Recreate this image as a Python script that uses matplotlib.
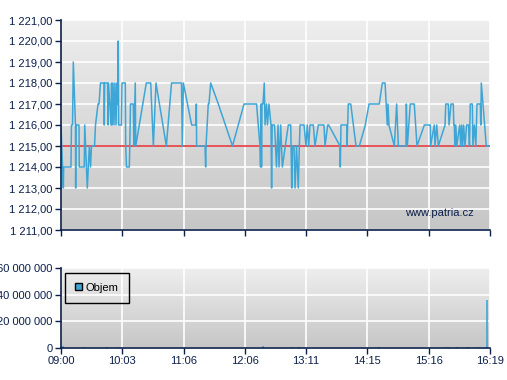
import numpy as np
import matplotlib
matplotlib.use("Agg")
import matplotlib.pyplot as plt
from matplotlib.ticker import FuncFormatter, FixedLocator
from matplotlib.patches import Patch
from matplotlib.colors import LinearSegmentedColormap

# ---------------- data ----------------
# minutes since 09:00
price_time = [0, 2.4, 2.7, 10.2, 10.7, 11.8, 12.6, 14.8, 15.0, 15.3, 18.4, 18.7, 23.8, 24.3,
              26.9, 29.0, 30.2, 31.2, 34.3, 35.3, 37.9, 38.9, 40.4, 44.0, 44.3, 44.7, 47.6,
              48.1, 48.6, 51.2, 51.7, 52.2, 53.2, 54.2, 55.2, 56.3, 57.3, 57.8, 58.6, 59.0,
              60.4, 61.9, 62.4, 65.8, 66.2, 67.0, 69.9, 70.4, 71.1, 74.0, 74.5, 76.0, 76.5,
              87.3, 91.8, 94.5, 97.2, 107.8, 113.1, 123.3, 124.1, 125.2, 133.7, 138.1, 138.5,
              138.8, 147.4, 148.0, 148.4, 150.7, 151.4, 153.2, 161.0, 175.5, 187.3, 200.1,
              203.6, 204.2, 204.7, 205.2, 205.7, 206.7, 208.0, 208.8, 210.3, 211.3, 212.8,
              214.9, 215.5, 216.1, 218.5, 220.5, 222.1, 223.1, 224.8, 226.5, 232.6, 235.1,
              236.1, 236.9, 238.4, 239.5, 241.0, 242.8, 243.9, 244.6, 248.7, 250.7, 252.0,
              253.5, 254.8, 258.2, 259.9, 263.3, 269.1, 270.2, 272.9, 273.9, 285.5, 285.8,
              286.5, 292.4, 292.7, 294.0, 296.5, 301.9, 305.3, 311.4, 315.2, 325.7, 328.8,
              331.6, 333.9, 334.6, 335.6, 341.1, 343.5, 345.2, 353.0, 353.4, 354.4, 357.4,
              361.5, 364.3, 371.8, 377.9, 378.2, 382.0, 382.7, 384.5, 386.1, 393.0, 393.7,
              396.3, 397.1, 399.1, 401.4, 402.0, 402.5, 403.0, 404.0, 405.0, 408.0, 409.0,
              410.0, 411.0, 412.0, 413.4, 415.0, 417.0, 418.0, 418.8, 420.9, 421.5, 423.0,
              424.5, 425.7, 429.1, 429.6, 430.1, 435.2, 439.0]
price_value = [1216, 1213, 1214, 1214, 1216, 1216, 1219, 1216, 1213, 1216, 1216, 1214, 1214, 1216,
               1213, 1215, 1214, 1215, 1215, 1216, 1217, 1217, 1218, 1218, 1216, 1218, 1218,
               1216, 1218, 1216, 1218, 1216, 1218, 1216, 1218, 1216, 1218, 1217, 1220, 1216,
               1216, 1216, 1218, 1218, 1215, 1214, 1214, 1215, 1217, 1217, 1215, 1218, 1215,
               1218, 1218, 1215, 1218, 1215, 1218, 1218, 1215, 1218, 1216, 1216, 1217,
               1215, 1215, 1214, 1215, 1217, 1217, 1218, 1217, 1215, 1217, 1217,
               1215, 1214, 1217, 1214, 1217, 1217, 1218, 1216, 1217, 1216, 1217,
               1216, 1213, 1216, 1216, 1214, 1216, 1214, 1216, 1214, 1216, 1216,
               1213, 1215, 1215, 1213, 1215, 1213, 1215, 1216, 1216, 1215, 1216,
               1215, 1216, 1216, 1215, 1216, 1216, 1215, 1216, 1216, 1215, 1214,
               1216, 1216, 1215, 1217, 1217, 1215, 1215, 1216, 1217, 1217, 1218,
               1218, 1216, 1217, 1216, 1215, 1217, 1215, 1215, 1217, 1215, 1217,
               1217, 1215, 1216, 1216, 1215, 1216, 1215, 1216, 1215, 1216, 1217,
               1217, 1216, 1217, 1217, 1216, 1216, 1215, 1216, 1215, 1216, 1215,
               1216, 1215, 1216, 1215, 1216, 1216, 1215, 1217, 1217, 1215, 1216,
               1215, 1217, 1217, 1216, 1218, 1215, 1215]

previous_close = 1215.0

volume_time = [2.4, 23.8, 47.4, 58.6, 207.0, 236.0, 243.9, 325.7, 393.0, 396.3, 405.0,
               415.2, 416.8, 427.0, 435.6, 436.2]
volume_value = [1.5e6, 0.8e6, 0.8e6, 0.9e6, 1.2e6, 0.8e6, 0.9e6, 0.7e6, 0.8e6, 0.9e6, 0.6e6,
                1.0e6, 0.8e6, 0.8e6, 36.0e6, 0.8e6]

x_tick_labels = ["09:00", "10:03", "11:06", "12:06", "13:11", "14:15", "15:16", "16:19"]
session_minutes = 439
price_ticks = [1211, 1212, 1213, 1214, 1215, 1216, 1217, 1218, 1219, 1220, 1221]
volume_ticks = [0, 20e6, 40e6, 60e6]

# ---------------- style ----------------
navy = "#0b1f4b"
line_col = "#3ea6d6"
plt.rcParams['font.family'] = ['Liberation Sans', 'DejaVu Sans']
fs = 8

fig = plt.figure(figsize=(5.07, 3.80), dpi=100)
ax = fig.add_axes([61/507, 1-230/380, 429/507, 210/380])
axv = fig.add_axes([61/507, 1-348/380, 429/507, 80/380])

grad = np.linspace(0, 1, 256).reshape(-1, 1)
cmap = LinearSegmentedColormap.from_list("bg", ["#c6c6c6", "#eeeeee"])

xt = np.linspace(0, session_minutes, len(x_tick_labels))

def style(a, ylo, yhi, yt):
    a.imshow(grad, aspect='auto', cmap=cmap, origin='lower',
             extent=[0, session_minutes, ylo, yhi], zorder=0)
    a.set_xlim(0, session_minutes)
    a.set_ylim(ylo, yhi)
    a.xaxis.set_major_locator(FixedLocator(xt))
    a.yaxis.set_major_locator(FixedLocator(yt))
    a.set_axisbelow(True)
    a.grid(True, color='white', linewidth=1.2)
    for gl in a.get_xgridlines() + a.get_ygridlines():
        gl.set_zorder(1)
    for s in ['top', 'right']:
        a.spines[s].set_visible(False)
    for s in ['left', 'bottom']:
        a.spines[s].set_color(navy)
        a.spines[s].set_linewidth(1.2)
        a.spines[s].set_zorder(6)
    a.tick_params(colors=navy, labelcolor=navy, labelsize=fs, length=4, width=1, pad=2)

style(ax, 1211, 1221, price_ticks)
ax.yaxis.set_major_formatter(FuncFormatter(
    lambda v, p: "1 %s" % ("%.2f" % (v - 1000)).replace(".", ",")))
ax.set_xticklabels([])
ax.axhline(previous_close, color="#e0262a", linewidth=1.1, zorder=3)
ax.plot(price_time, price_value, color=line_col, linewidth=1.1, zorder=4)
ax.text(0.962, 0.081, "www.patria.cz", transform=ax.transAxes, ha='right', va='center',
        color=navy, fontsize=fs, zorder=5)

style(axv, 0, 60e6, volume_ticks)
axv.yaxis.set_major_formatter(FuncFormatter(
    lambda v, p: "{:,.0f}".format(v).replace(",", " ")))
axv.set_xticklabels(x_tick_labels)
axv.vlines(volume_time, 0, volume_value, color=line_col, linewidth=1.2, zorder=3)
leg = axv.legend(handles=[Patch(facecolor=line_col, edgecolor='black', linewidth=1, label="Objem")],
                 loc='upper left', bbox_to_anchor=(0.009, 0.94), fancybox=False,
                 edgecolor='black', facecolor='none', framealpha=1, fontsize=fs,
                 handlelength=0.6, handleheight=0.6, handletextpad=0.4, borderpad=0.9,
                 borderaxespad=0.0)
leg.get_frame().set_linewidth(1.0)
for t in leg.get_texts():
    t.set_color('black')

fig.savefig("out.png", dpi=100)
